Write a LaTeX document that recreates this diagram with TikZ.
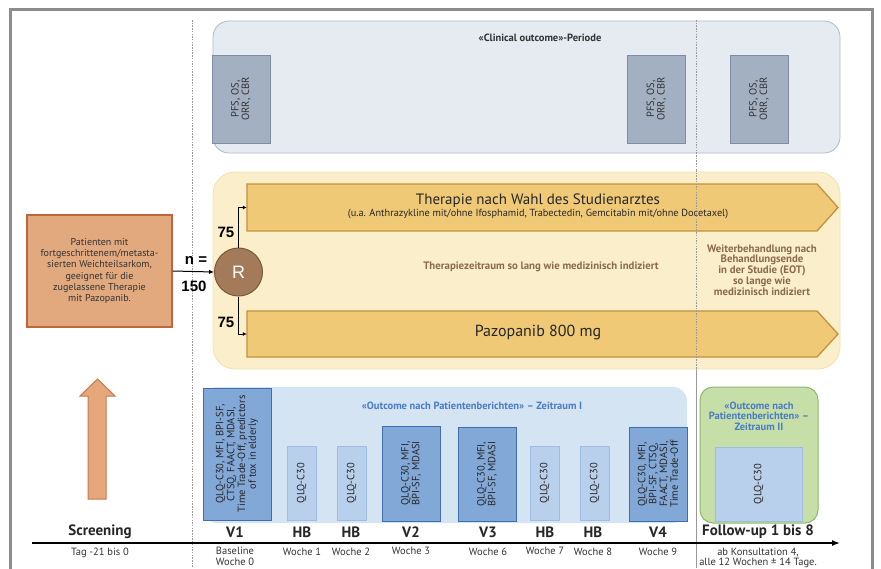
\documentclass[tikz,border=0pt]{standalone}
\usepackage{fontspec}
\setmainfont{PT Sans}
\newfontfamily\arialf{Liberation Sans}
\usetikzlibrary{arrows.meta}
\definecolor{frameC}{HTML}{8C8C8C}
\definecolor{clinFill}{HTML}{E6EBF1}
\definecolor{clinLine}{HTML}{AEB9C6}
\definecolor{pfsFill}{HTML}{A3B0C1}
\definecolor{pfsLine}{HTML}{7D8DA2}
\definecolor{yelFill}{HTML}{FBEFCB}
\definecolor{yelLine}{HTML}{F4E2AC}
\definecolor{armFill}{HTML}{F0C977}
\definecolor{armLine}{HTML}{C4913A}
\definecolor{patFill}{HTML}{E2A97F}
\definecolor{patLine}{HTML}{C0653E}
\definecolor{rFill}{HTML}{A47B5A}
\definecolor{rLine}{HTML}{7A583A}
\definecolor{brownT}{HTML}{8A6A4E}
\definecolor{zFill}{HTML}{D4E4F3}
\definecolor{vFill}{HTML}{82A8D8}
\definecolor{vLine}{HTML}{3E6EAD}
\definecolor{hbFill}{HTML}{B8D0EB}
\definecolor{hbLine}{HTML}{9EBDE2}
\definecolor{blueT}{HTML}{4A7CC4}
\definecolor{grFill}{HTML}{C6DFA9}
\definecolor{grLine}{HTML}{8DB86C}
\definecolor{upFill}{HTML}{E6A77B}
\definecolor{upLine}{HTML}{C47A4F}
\tikzset{
  pfsbox/.style={draw=pfsLine, fill=pfsFill, line width=0.9pt, rotate=90, minimum width=88, minimum height=58, inner sep=0, align=center, text=black!80, font=\fontsize{10.5}{10.5}\selectfont},
  vbox/.style={draw=vLine, fill=vFill, line width=1pt, rotate=90, inner sep=0, align=center, text=black!85, font=\fontsize{10.5}{10.8}\selectfont},
  hbbox/.style={draw=hbLine, fill=hbFill, line width=0.9pt, rotate=90, minimum width=74, minimum height=29, inner sep=0, align=center, text=black!85, font=\fontsize{10.5}{11}\selectfont},
  lbl/.style={font=\fontsize{15}{16}\selectfont\bfseries, text=black!85},
  sub/.style={font=\fontsize{10.5}{10.5}\selectfont, text=black!80, align=center, anchor=north},
  bluet/.style={font=\fontsize{10.5}{10.5}\selectfont\bfseries, text=blueT, align=center},
  brownt/.style={font=\fontsize{10.8}{10.8}\selectfont\bfseries, text=brownT, align=center},
  arm/.style={draw=armLine, fill=armFill, line width=1.3pt},
  num/.style={font=\arialf\fontsize{15}{16}\selectfont\bfseries},
  guide/.style={draw=black!40, line width=0.5pt, dash pattern=on 1.5pt off 1.2pt},
}
\begin{document}
\begin{tikzpicture}[x=1pt,y=-1pt]
\useasboundingbox (0,0) rectangle (881,568);
\fill[white] (0,0) rectangle (881,568);
% frame
\coordinate (fBL) at (10.5,570);
\coordinate (fTL) at (10.5,9.5);
\coordinate (fTR) at (872.5,9.5);
\coordinate (fBR) at (872.5,570);
\draw[frameC, line width=3pt] (fBL) -- (fTL) -- (fTR) -- (fBR);
% guides
\coordinate (g1t) at (192,20); \coordinate (g1b) at (192,568);
\coordinate (g2t) at (696,20); \coordinate (g2b) at (696,568);
\coordinate (g2m) at (696,170);

% clinical outcome period
\node[draw=clinLine, fill=clinFill, line width=0.8pt, rounded corners=16, minimum width=627, minimum height=132, inner sep=0] (clin) at (526.5,87) {};
\node[font=\fontsize{10.5}{11}\selectfont\bfseries, text=black!80] (clinT) at (540,38) {«Clinical outcome»-Periode};
\draw[guide] (g1t) -- (g1b);
\draw[guide] (g2t) -- (g2b);
\node[pfsbox] (pfs1) at (241,99) {PFS, OS,\\ORR, CBR};
\node[pfsbox] (pfs2) at (656.5,99) {PFS, OS,\\ORR, CBR};
\node[pfsbox] (pfs3) at (759,99) {PFS, OS,\\ORR, CBR};

% treatment period
\node[draw=yelLine, fill=yelFill, line width=0.8pt, rounded corners=22, minimum width=627, minimum height=197, inner sep=0] (yel) at (526.5,270.5) {};
\draw[arm] (247,184) -- (817,184) -- (838,207.5) -- (817,231) -- (247,231) -- cycle;
\draw[arm] (247,311) -- (817,311) -- (838,334) -- (817,357) -- (247,357) -- cycle;
\draw[guide] (g2m) -- (g2b);
\node[minimum width=570, minimum height=47, inner sep=0] (ther) at (532,207.5) {};
\node[minimum width=570, minimum height=46, inner sep=0] (pazo) at (532,334) {};
\node[font=\fontsize{15}{15}\selectfont, text=black!85] (therT) at (538,201) {Therapie nach Wahl des Studienarztes};
\node[font=\fontsize{10.3}{10.3}\selectfont, text=black!85] (therS) at (538,213.5) {(u.a. Anthrazykline mit/ohne Ifosphamid, Trabectedin, Gemcitabin mit/ohne Docetaxel)};
\node[font=\fontsize{16}{16}\selectfont, text=black!85] (pazoT) at (538,332) {Pazopanib 800 mg};
\node[brownt] (tz) at (541,267) {Therapiezeitraum so lang wie medizinisch indiziert};
\node[brownt] (eot) at (762,270) {Weiterbehandlung nach\\Behandlungsende\\in der Studie (EOT)\\so lange wie\\medizinisch indiziert};

% patient box and randomisation
\node[draw=patLine, fill=patFill, line width=1.3pt, minimum width=145, minimum height=112, inner sep=0, align=center, font=\fontsize{10}{11.2}\selectfont, text=black!80] (pat) at (99.5,271) {Patienten mit\\fortgeschrittenem/metasta-\\sierten Weichteilsarkom,\\geeignet für die\\zugelassene Therapie\\mit Pazopanib.};
\node[circle, draw=rLine, fill=rFill, line width=1pt, minimum size=48, inner sep=0, text=white, font=\arialf\fontsize{18}{18}\selectfont] (R) at (238.5,272) {R};
\draw[-{Latex[length=5pt,width=4.5pt]}, line width=1pt] (pat.east) -- (R.west);
\draw[-{Latex[length=4pt,width=4pt]}, line width=0.9pt] (R.north) |- (ther.west);
\draw[-{Latex[length=4pt,width=4pt]}, line width=0.9pt] (R.south) |- (pazo.west);
\node[num] (n75a) at (226,232) {75};
\node[num] (n75b) at (226,322) {75};
\node[num] (neq) at (196,260) {n =};
\node[num] (n150) at (194,286) {150};

% screening arrow
\draw[draw=upLine, fill=upFill, line width=1pt] (88,499) -- (88,396) -- (80,396) -- (97.5,379) -- (115,396) -- (106,396) -- (106,499) -- cycle;

% PRO period I
\node[fill=zFill, rounded corners=14, minimum width=484, minimum height=136, inner sep=0] (zI) at (445,455) {};
\node[bluet] (zIT) at (472,406) {«Outcome nach Patientenberichten» – Zeitraum I};
\node[vbox, minimum width=132, minimum height=68] (v1) at (237,454) {QLQ-C30, MFI, BPI-SF,\\CTSQ, FAACT, MDASI,\\Time Trade-Off, predictors\\of tox in elderly};
\node[hbbox] (hb1) at (301.5,483) {QLQ-C30};
\node[hbbox] (hb2) at (351.5,483) {QLQ-C30};
\node[vbox, minimum width=95, minimum height=58] (v2) at (411,473.5) {QLQ-C30, MFI,\\BPI-SF, MDASI};
\node[vbox, minimum width=94, minimum height=58] (v3) at (487,474) {QLQ-C30, MFI,\\BPI-SF, MDASI};
\node[hbbox] (hb3) at (544.5,483) {QLQ-C30};
\node[hbbox] (hb4) at (594.5,483) {QLQ-C30};
\node[vbox, minimum width=94, minimum height=58] (v4) at (658,474) {QLQ-C30, MFI,\\BPI-SF, CTSQ,\\FAACT, MDASI,\\Time Trade-Off};

% PRO period II
\node[draw=grLine, fill=grFill, line width=1pt, rounded corners=13, minimum width=118, minimum height=136, inner sep=0] (zII) at (759,455) {};
\node[bluet] (zIIT) at (759,416) {«Outcome nach\\Patientenberichten» –\\Zeitraum II};
\node[hbbox, minimum width=74, minimum height=87] (fu) at (758.5,484) {QLQ-C30};

% time axis
\coordinate (axL) at (32,543);
\coordinate (axR) at (840,543);
\draw[line width=1.5pt, -{Latex[length=8pt,width=6pt]}] (axL) -- (axR);
\node[lbl] (lScr) at (100,532) {Screening};
\node[lbl] (lV1) at (235,532) {V1};
\node[lbl] (lHB1) at (302,532) {HB};
\node[lbl] (lHB2) at (351,532) {HB};
\node[lbl] (lV2) at (411,532) {V2};
\node[lbl] (lV3) at (488,532) {V3};
\node[lbl] (lHB3) at (545,532) {HB};
\node[lbl] (lHB4) at (593,532) {HB};
\node[lbl] (lV4) at (658,532) {V4};
\node[lbl] (lFU) at (758,532) {Follow-up 1 bis 8};
\node[sub] (sScr) at (100,544) {Tag -21 bis 0};
\node[sub] (sV1) at (235,544) {Baseline\\Woche 0};
\node[sub] (sHB1) at (302,544) {Woche 1};
\node[sub] (sHB2) at (351,544) {Woche 2};
\node[sub] (sV2) at (411,544) {Woche 3};
\node[sub] (sV3) at (488,544) {Woche 6};
\node[sub] (sHB3) at (545,544) {Woche 7};
\node[sub] (sHB4) at (593,544) {Woche 8};
\node[sub] (sV4) at (658,544) {Woche 9};
\node[sub] (sFU) at (758,544) {ab Konsultation 4,\\alle 12 Wochen ± 14 Tage.};
\end{tikzpicture}
\end{document}
